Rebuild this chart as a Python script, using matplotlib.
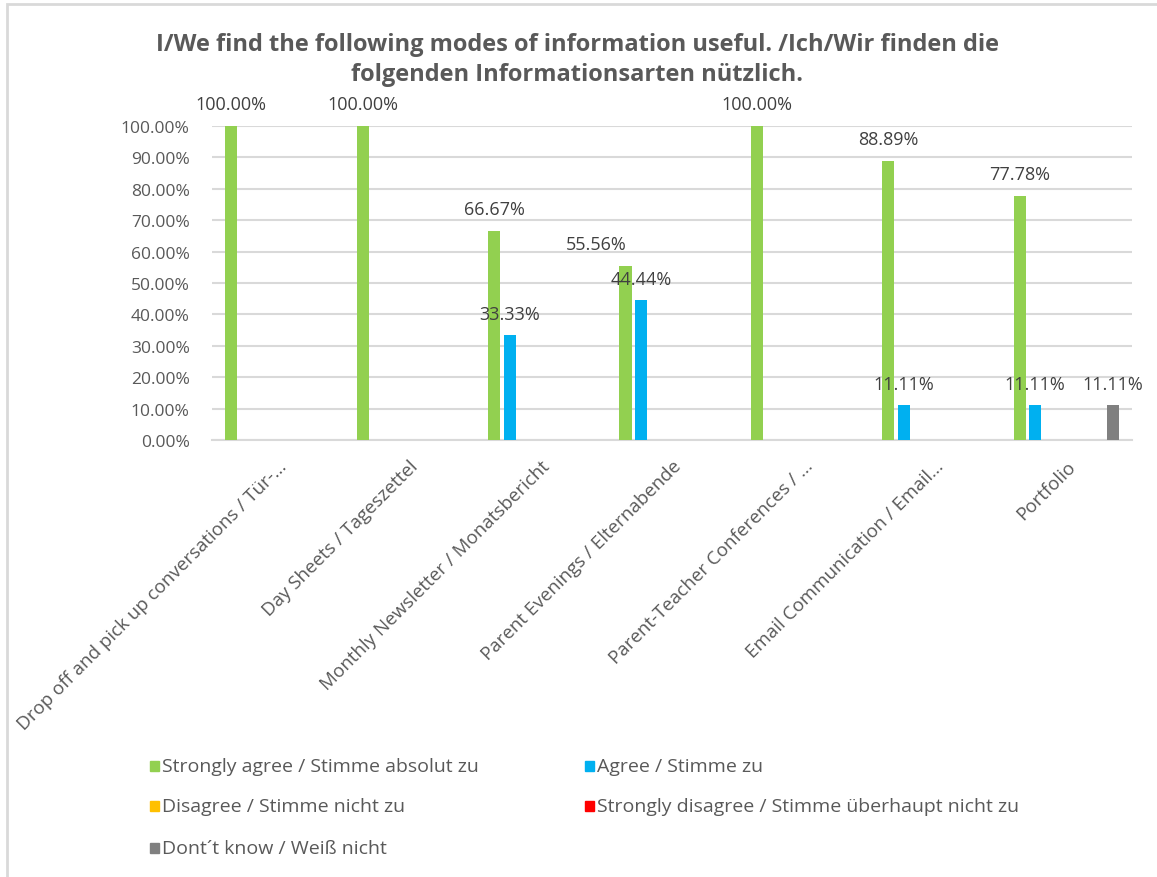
import matplotlib
matplotlib.use("Agg")
import matplotlib.pyplot as plt
from matplotlib.patches import Rectangle
import numpy as np

# ---- data ----
categories = [
    "Drop off and pick up conversations / Tür-...",
    "Day Sheets / Tageszettel",
    "Monthly Newsletter / Monatsbericht",
    "Parent Evenings / Elternabende",
    "Parent-Teacher Conferences / ...",
    "Email Communication / Email...",
    "Portfolio",
]
series_names = [
    "Strongly agree / Stimme absolut zu",
    "Agree / Stimme zu",
    "Disagree / Stimme nicht zu",
    "Strongly disagree / Stimme überhaupt nicht zu",
    "Dont\u00b4t know / Weiß nicht",
]
strongly_agree = [100.00, 100.00, 66.67, 55.56, 100.00, 88.89, 77.78]
agree = [0, 0, 33.33, 44.44, 0, 11.11, 11.11]
disagree = [0, 0, 0, 0, 0, 0, 0]
strongly_disagree = [0, 0, 0, 0, 0, 0, 0]
dont_know = [0, 0, 0, 0, 0, 0, 11.11]
yticks = [0, 10, 20, 30, 40, 50, 60, 70, 80, 90, 100]
title = "I/We find the following modes of information useful. /Ich/Wir finden die\nfolgenden Informationsarten nützlich."

# ---- style ----
colors = ["#92D050", "#00B0F0", "#FFC000", "#FF0000", "#808080"]
slots = [0, 1, 3, 4, 6]          # slot index of each series inside a group of 7
n_slots = 7
slot_w = 0.118
bar_w = 0.092
label_dx = {(0, 3): -21}         # shift (points) for overlapping label
TXT = "#595959"
LBL = "#404040"
GRID = "#D9D9D9"
narrow = ["Liberation Sans Narrow", "Open Sans", "DejaVu Sans"]
body = ["Open Sans", "DejaVu Sans"]

W, H = 1157, 878
fig = plt.figure(figsize=(W / 100, H / 100), dpi=100)
fig.patch.set_facecolor("white")

ax = fig.add_axes([212 / W, 1 - 441 / H, 920 / W, 314 / H])
data = [strongly_agree, agree, disagree, strongly_disagree, dont_know]
x = np.arange(len(categories))
for si, (vals, col) in enumerate(zip(data, colors)):
    off = (slots[si] - (n_slots - 1) / 2) * slot_w
    bars = ax.bar(x + off, vals, width=bar_w, color=col, zorder=3)
    for ci, (b, v) in enumerate(zip(bars, vals)):
        if v > 0:
            dx = label_dx.get((si, ci), 0)
            ax.annotate(f"{v:.2f}%", (b.get_x() + b.get_width() / 2, v),
                        xytext=(dx, 9), textcoords="offset points",
                        ha="center", va="bottom", fontsize=13,
                        color=LBL, family=body, zorder=4)

ax.set_xlim(-0.5, len(categories) - 0.5)
ax.set_ylim(0, 100)
ax.set_yticks(yticks)
ax.set_yticklabels([f"{t:.2f}%" for t in yticks], fontsize=12.5, color=TXT, family=body)
ax.set_xticks(x)
ax.set_xticklabels(categories, rotation=45, ha="right", rotation_mode="anchor",
                   fontsize=13.5, color=TXT, family=body)
ax.tick_params(axis="both", length=0)
ax.tick_params(axis="y", pad=16)
ax.tick_params(axis="x", pad=12)
for s in ["top", "right", "left"]:
    ax.spines[s].set_visible(False)
ax.spines["bottom"].set_color(GRID)
ax.spines["bottom"].set_linewidth(1.5)
ax.grid(axis="y", color=GRID, linewidth=1.5, zorder=0)
ax.set_axisbelow(True)

fig.text(577 / W, 1 - 60 / H, title, ha="center", va="center", fontsize=17,
         fontweight="bold", color=TXT, family=narrow, linespacing=1.35)

# ---- legend (row-wise, two columns) ----
leg_cols = [150, 585]
leg_rows = [767, 807, 849]
for i, (name, col) in enumerate(zip(series_names, colors)):
    r, c = divmod(i, 2)
    px, py = leg_cols[c], leg_rows[r]
    fig.patches.append(Rectangle((px / W, (H - py - 5) / H), 9 / W, 10 / H,
                                 transform=fig.transFigure, color=col, figure=fig))
    fig.text((px + 12) / W, 1 - py / H, name, ha="left", va="center",
             fontsize=14, color=TXT, family=narrow)

# frame
fig.patches.append(Rectangle((7 / W, -0.1), 1.2, (H - 5) / H + 0.1,
                             transform=fig.transFigure, fill=False,
                             edgecolor=GRID, linewidth=2, figure=fig))

fig.savefig("out.png", dpi=100, facecolor="white")
